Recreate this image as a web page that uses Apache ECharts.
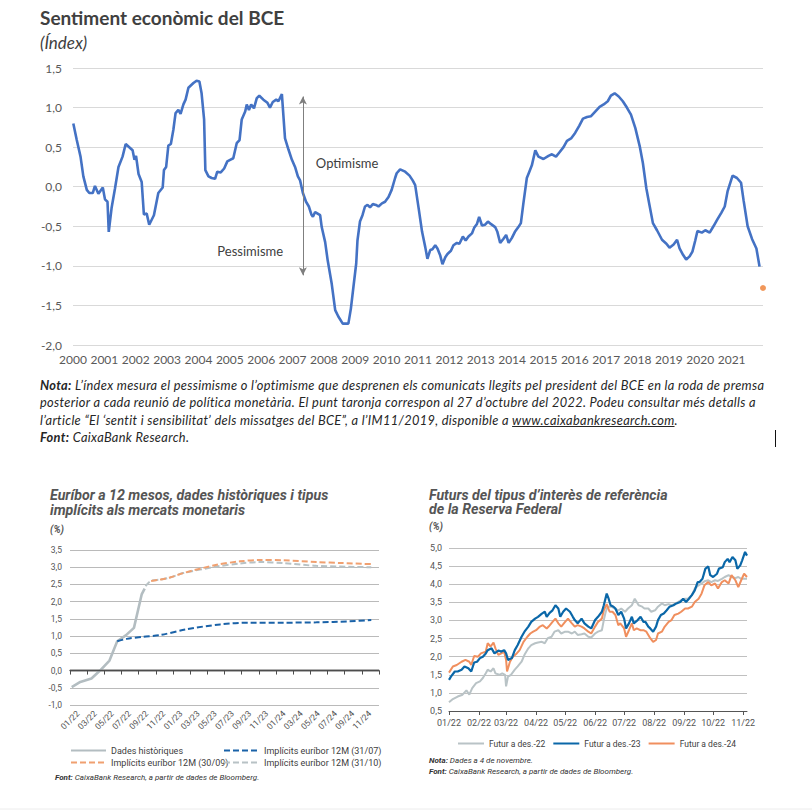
<!DOCTYPE html>
<html><head><meta charset="utf-8">
<script src="https://cdn.jsdelivr.net/npm/echarts@6/dist/echarts.min.js"></script>
<style>
html,body{margin:0;padding:0;background:#fff;}
#chart{position:absolute;left:0;top:0;width:812px;height:811px;}
#note{position:absolute;left:40px;top:377px;font-family:Lato,'Open Sans',sans-serif;font-style:italic;font-size:12.8px;letter-spacing:0.33px;line-height:17.3px;color:#262626;white-space:nowrap;}
#note b{font-weight:bold;}
#cursor{position:absolute;left:775px;top:430px;width:1px;height:17px;background:#111;}
</style></head><body>
<div id="chart"></div>
<div id="note"><b>Nota:</b> L’índex mesura el pessimisme o l’optimisme que desprenen els comunicats llegits pel president del BCE en la roda de premsa<br>posterior a cada reunió de política monetària. El punt taronja correspon al 27 d’octubre del 2022. Podeu consultar més detalls a<br>l’article “El ‘sentit i sensibilitat’ dels missatges del BCE”, a l’IM11/2019, disponible a <u>www.caixabankresearch.com</u>.<br><b>Font:</b> CaixaBank Research.</div>
<div id="cursor"></div>
<script>
// ---------- Chart 1: Sentiment econòmic del BCE ----------
const sentimentYearOffset = [0.01,0.12,0.24,0.33,0.44,0.52,0.63,0.70,0.81,0.95,
1.02,1.10,1.14,1.23,1.34,1.45,1.58,1.68,1.82,1.90,
1.96,2.01,2.09,2.19,2.26,2.35,2.43,2.58,2.72,2.86,
2.90,2.97,3.04,3.12,3.20,3.27,3.36,3.43,3.52,3.59,
3.68,3.84,3.94,4.03,4.10,4.18,4.22,4.32,4.42,4.53,
4.60,4.71,4.82,4.92,5.01,5.11,5.22,5.31,5.38,5.49,
5.54,5.61,5.68,5.77,5.86,5.94,6.07,6.20,6.28,6.37,
6.48,6.55,6.66,6.76,6.87,6.98,7.08,7.17,7.24,7.33,
7.43,7.52,7.60,7.65,7.72,7.80,7.88,7.93,8.04,8.12,
8.25,8.36,8.46,8.60,8.78,8.86,8.94,9.03,9.07,9.15,
9.23,9.31,9.39,9.47,9.56,9.66,9.74,9.85,9.95,10.06,
10.16,10.27,10.32,10.43,
10.59,10.73,10.83,10.91,11.02,11.13,11.23,11.30,11.39,11.46,
11.55,11.62,11.71,11.78,11.87,11.94,12.05,12.13,12.24,12.32,
12.43,12.52,12.61,12.72,12.79,12.88,12.95,13.04,13.14,13.23,
13.32,13.46,13.53,13.62,13.72,13.81,13.89,13.99,14.09,14.20,
14.28,14.36,14.47,14.55,14.63,14.74,14.84,15.00,15.16,15.27,
15.40,15.50,15.64,15.75,15.88,16.01,16.14,16.26,16.39,16.51,
16.65,16.79,16.92,17.05,17.15,17.27,17.40,17.53,17.66,17.79,
17.93,18.07,18.17,18.28,18.38,18.49,18.62,18.78,18.92,19.02,
19.15,19.26,19.34,19.45,19.55,19.66,19.75,19.84,19.91,20.05,
20.16,20.30,20.42,20.55,20.67,20.78,20.87,21.03,21.17,21.30,
21.38,21.51,21.65,21.79,21.89];
const sentimentIndex = [0.80,0.59,0.38,0.13,-0.04,-0.08,-0.08,0.01,-0.09,-0.01,
-0.16,-0.19,-0.57,-0.27,-0.02,0.25,0.38,0.54,0.49,0.46,
0.34,0.39,0.16,0.06,-0.35,-0.34,-0.48,-0.36,-0.08,-0.01,
0.21,0.25,0.52,0.54,0.72,0.93,0.97,0.92,1.04,1.10,
1.25,1.31,1.34,1.33,1.18,0.85,0.21,0.13,0.11,0.10,
0.19,0.18,0.23,0.32,0.34,0.36,0.55,0.59,0.85,0.95,
1.04,0.97,1.04,0.99,1.12,1.15,1.10,1.06,1.00,1.07,
1.10,1.08,1.17,0.61,0.47,0.34,0.25,0.13,0.08,-0.08,
-0.19,-0.25,-0.35,-0.38,-0.32,-0.34,-0.36,-0.51,-0.70,-0.93,
-1.23,-1.56,-1.64,-1.73,-1.73,-1.54,-1.27,-0.97,-0.68,-0.44,
-0.36,-0.25,-0.23,-0.26,-0.22,-0.23,-0.25,-0.21,-0.19,-0.13,
-0.04,0.11,0.17,0.22,
0.19,0.14,0.08,0.02,-0.27,-0.57,-0.76,-0.91,-0.80,-0.79,
-0.74,-0.78,-0.87,-0.98,-0.89,-0.85,-0.81,-0.74,-0.71,-0.72,
-0.63,-0.68,-0.63,-0.59,-0.52,-0.47,-0.38,-0.49,-0.48,-0.44,
-0.47,-0.51,-0.57,-0.71,-0.66,-0.61,-0.71,-0.65,-0.57,-0.51,
-0.46,-0.21,0.11,0.19,0.27,0.46,0.38,0.35,0.39,0.41,
0.38,0.43,0.50,0.58,0.61,0.68,0.77,0.86,0.88,0.89,
0.95,1.01,1.04,1.08,1.15,1.18,1.14,1.08,1.00,0.91,
0.74,0.51,0.30,-0.02,-0.23,-0.46,-0.55,-0.67,-0.72,-0.77,
-0.73,-0.67,-0.78,-0.86,-0.92,-0.88,-0.82,-0.68,-0.56,-0.58,
-0.55,-0.58,-0.50,-0.41,-0.33,-0.25,-0.06,0.14,0.11,0.05,
-0.17,-0.50,-0.66,-0.78,-1.01];
const latestPoint = [2022.0, -1.28];   // 27/10/2022
const arrowRange = [-1.12, 1.14];      // Pessimisme / Optimisme arrow
const yearStart = 2000, yearEnd = 2022;

// ---------- Chart 2: Euríbor a 12 mesos ----------
const euriborTickLabels = ['01/22','03/22','05/22','07/22','09/22','11/22','01/23','03/23','05/23','07/23','09/23','11/23','01/24','03/24','05/24','07/24','09/24','11/24'];
const euriborMin = -1, euriborMax = 3.5;
const histMonths = [0.2,1.2,2.5,3.5,4.6,5.5,6.5,7.45,8.35,8.7];
const histValues = [-0.48,-0.33,-0.23,0.0,0.29,0.85,1.02,1.24,2.21,2.38];
const impl3107Months = [5.5,6.6,8.5,10.5,13.6,17.5,21,24.9,28.7,32.6,35.1];
const impl3107Values = [0.85,0.92,0.98,1.03,1.20,1.34,1.39,1.39,1.40,1.43,1.47];
const impl3009Months = [9.45,10.5,11.65,13.2,17.1,19.8,22.1,24.9,28.7,31.8,35.1];
const impl3009Values = [2.60,2.64,2.70,2.83,3.07,3.17,3.21,3.20,3.15,3.12,3.09];
const impl3110Months = [8.8,9.4,10.5,11.65,13.2,17.1,19.8,22.1,24.9,28.7,35.1];
const impl3110Values = [2.45,2.60,2.64,2.70,2.83,3.02,3.11,3.15,3.12,3.04,3.00];

// ---------- Chart 3: Futurs Fed funds (days since 1 Jan 2022) ----------
const fedTickLabels = ['01/22','02/22','03/22','04/22','05/22','06/22','07/22','08/22','09/22','10/22','11/22'];
const fed22Days = [0,4,9,14,18,21,24,28,32,35,38,40,43,46,48,52,55,58,59,61,64,68,71,75,78,82,85,89,92,96,99,102,106,109,113,116,120,123,127,130,133,137,140,144,147,151,154,158,160,162,164,168,171,175,178,182,185,189,192,196,199,202,206,209,213,216,220,223,227,230,233,237,240,244,247,251,254,258,261,264,268,271,275,278,282,285,289,292,296,299,302,308];
const fed22Values = [0.74,0.83,0.90,0.95,1.07,0.95,1.13,1.27,1.32,1.41,1.54,1.64,1.59,1.68,1.54,1.50,1.54,1.50,1.18,1.45,1.50,1.64,1.73,1.86,2.05,2.23,2.32,2.37,2.39,2.41,2.37,2.51,2.55,2.69,2.73,2.64,2.69,2.69,2.64,2.69,2.60,2.62,2.64,2.55,2.53,2.64,2.69,2.73,3.01,3.24,3.38,3.38,3.33,3.28,3.33,3.24,3.33,3.42,3.60,3.42,3.39,3.33,3.33,3.24,3.28,3.38,3.47,3.42,3.45,3.42,3.45,3.51,3.56,3.60,3.60,3.70,3.88,3.97,4.02,4.08,4.11,4.06,4.11,4.09,4.15,4.20,4.25,4.20,4.17,4.20,4.15,4.15];
const fed23Days = [0,2,6,9,13,16,20,23,26,29,32,35,38,40,44,47,51,54,57,59,61,65,68,71,75,78,82,85,89,92,96,99,101,104,107,110,113,115,118,121,125,128,130,133,137,140,144,147,151,154,158,160,163,165,167,170,172,175,178,181,183,186,189,191,195,198,201,203,206,208,211,214,216,219,222,225,228,232,235,239,242,245,248,251,254,257,259,262,265,268,270,273,277,279,283,285,288,290,293,296,298,301,303,306,308];
const fed23Values = [1.36,1.45,1.59,1.59,1.64,1.73,1.68,1.59,1.84,1.86,1.96,2.00,2.09,2.18,2.23,2.09,2.17,2.14,2.18,2.09,1.91,1.96,2.18,2.32,2.55,2.69,2.83,2.96,3.05,3.10,3.19,3.24,3.10,3.21,3.28,3.42,3.33,3.10,3.24,3.33,3.24,3.10,3.01,2.92,3.05,2.92,2.83,2.78,3.01,3.10,3.24,3.42,3.74,3.60,3.42,3.38,3.33,3.15,3.24,3.05,2.78,2.92,3.10,2.92,3.01,3.10,2.96,2.96,2.83,2.78,2.69,2.83,3.01,3.15,3.19,3.28,3.38,3.42,3.47,3.51,3.60,3.51,3.60,3.70,3.83,4.06,4.06,4.15,4.43,4.49,4.25,4.20,4.29,4.43,4.47,4.61,4.70,4.61,4.75,4.66,4.43,4.52,4.66,4.89,4.79];
const fed24Days = [0,4,8,13,17,21,23,26,30,33,38,40,43,46,48,51,54,57,59,60,63,66,70,73,77,81,84,87,90,94,97,101,103,107,110,113,116,120,123,127,130,133,137,140,144,147,151,154,158,160,163,166,169,172,175,177,181,183,186,189,191,194,198,201,204,208,211,214,216,220,223,227,230,233,237,240,244,247,251,254,258,261,264,268,271,275,278,282,285,289,292,296,299,302,305,308];
const fed24Values = [1.56,1.73,1.77,1.86,1.91,1.86,1.77,2.02,2.00,2.09,2.14,2.37,2.28,2.39,2.23,2.05,2.09,2.14,1.91,1.59,1.86,2.00,2.09,2.18,2.41,2.55,2.64,2.69,2.73,2.83,2.87,2.78,2.83,2.96,3.05,2.92,2.83,2.96,3.05,2.92,2.83,2.87,2.83,2.78,2.69,2.64,2.83,2.96,3.05,3.28,3.45,3.24,3.24,3.15,2.87,2.92,2.78,2.55,2.73,2.92,2.73,2.78,2.73,2.73,2.69,2.51,2.41,2.46,2.64,2.69,2.83,2.96,3.01,3.15,3.19,3.24,3.33,3.33,3.38,3.51,3.60,3.74,3.97,4.06,3.97,4.02,3.88,4.06,4.11,4.02,4.25,4.11,3.92,4.11,4.29,4.20];
const fedEndDay = 308;

const DAY = 86400000;
const jan1 = new Date(2022, 0, 1).getTime();
const monthStartDays = fedTickLabels.map((_, i) => Math.round((new Date(2022, i, 1).getTime() - jan1) / DAY));
const pairs = (xs, ys, fx) => xs.map((x, i) => [fx ? fx(x) : x, ys[i]]);
const comma = v => v.toFixed(1).replace('.', ',');

const FONT_MAIN = 'Lato';
const FONT_SMALL = 'Roboto';
const legendCommon = {itemWidth: 35, itemHeight: 8, itemGap: 3, padding: 0, itemStyle: {opacity: 0},
  textStyle: {fontSize: 9, color: '#404040', fontFamily: FONT_SMALL}};

// Euríbor panel geometry; the zero line sits on a helper grid whose bottom is the value 0
const eurTop = 550, eurHeight = 155;
const eurZeroHeight = eurHeight * (euriborMax - 0) / (euriborMax - euriborMin);

const chart = echarts.init(document.getElementById('chart'), null, {renderer: 'svg'});
const option = {
  animation: false,
  backgroundColor: '#fff',
  grid: [
    {left: 73, top: 68, width: 690, height: 277, outerBoundsMode: 'none'},
    {left: 70, top: eurTop, width: 309, height: eurHeight, outerBoundsMode: 'none'},
    {left: 449, top: 548, width: 298, height: 163, outerBoundsMode: 'none'},
    {left: 70, top: eurTop, width: 309, height: eurZeroHeight, outerBoundsMode: 'none'}
  ],
  xAxis: [
    {type: 'value', gridIndex: 0, position: 'bottom', min: yearStart, max: yearEnd, interval: 1,
     axisLine: {show: false}, axisTick: {show: false}, splitLine: {show: false},
     axisLabel: {color: '#595959', fontFamily: FONT_MAIN, fontSize: 12, margin: 8,
       formatter: v => v < yearEnd ? String(v) : ''}},
    {type: 'value', gridIndex: 1, position: 'bottom', min: 0, max: 36, interval: 2,
     axisLine: {show: false, onZero: false}, axisTick: {show: false}, splitLine: {show: false},
     axisLabel: {rotate: 45, align: 'center', verticalAlign: 'middle', margin: 15,
       color: '#555', fontFamily: FONT_SMALL, fontSize: 8.5,
       formatter: v => euriborTickLabels[v / 2] || ''}},
    {type: 'value', gridIndex: 2, position: 'bottom', min: 0, max: fedEndDay,
     axisLine: {show: true, lineStyle: {color: '#555', width: 1}},
     axisTick: {show: true, length: 4, lineStyle: {color: '#555'}, customValues: monthStartDays},
     splitLine: {show: false},
     axisLabel: {customValues: monthStartDays, color: '#555', fontFamily: FONT_SMALL, fontSize: 9, margin: 7,
       formatter: v => fedTickLabels[monthStartDays.indexOf(v)] || ''}},
    {type: 'value', gridIndex: 3, position: 'bottom', min: 0, max: 36, interval: 2, z: 5,
     axisLine: {show: true, onZero: false, lineStyle: {color: '#4d4d4d', width: 1.3}},
     axisTick: {show: true, length: 4, lineStyle: {color: '#4d4d4d', width: 1}},
     axisLabel: {show: false}, splitLine: {show: false}}
  ],
  yAxis: [
    {type: 'value', gridIndex: 0, min: -2, max: 1.5, interval: 0.5,
     axisLine: {show: false}, axisTick: {show: false},
     splitLine: {lineStyle: {color: '#d9d9d9', width: 1}},
     axisLabel: {color: '#595959', fontFamily: FONT_MAIN, fontSize: 12, margin: 11, formatter: comma}},
    {type: 'value', gridIndex: 1, min: euriborMin, max: euriborMax, interval: 0.5,
     axisLine: {show: false}, axisTick: {show: false},
     splitLine: {lineStyle: {color: '#a8a8a8', width: 0.8}},
     axisLabel: {color: '#555', fontFamily: FONT_SMALL, fontSize: 8.5, margin: 8, formatter: comma}},
    {type: 'value', gridIndex: 2, min: 0.5, max: 5, interval: 0.5,
     axisLine: {show: false}, axisTick: {show: false},
     splitLine: {lineStyle: {color: '#b0b0b0', width: 0.8}},
     axisLabel: {color: '#555', fontFamily: FONT_SMALL, fontSize: 9, margin: 7, formatter: comma}},
    {type: 'value', gridIndex: 3, min: 0, max: euriborMax, interval: 0.5,
     axisLine: {show: false}, axisTick: {show: false}, axisLabel: {show: false}, splitLine: {show: false}}
  ],
  legend: [
    Object.assign({data: ['Dades històriques', 'Implícits euríbor 12M (30/09)'], orient: 'vertical', left: 70, top: 746}, legendCommon),
    Object.assign({data: ['Implícits euríbor 12M (31/07)', 'Implícits euríbor 12M (31/10)'], orient: 'vertical', left: 223, top: 746}, legendCommon),
    Object.assign({}, legendCommon, {data: ['Futur a des.-22', 'Futur a des.-23', 'Futur a des.-24'], orient: 'horizontal', left: 457, top: 739,
     itemWidth: 26, itemGap: 7, textStyle: {fontSize: 8.5, color: '#404040', fontFamily: FONT_SMALL}})
  ],
  series: [
    {name: 'Sentiment', type: 'line', xAxisIndex: 0, yAxisIndex: 0,
     data: pairs(sentimentYearOffset, sentimentIndex, t => yearStart + t),
     showSymbol: false, lineStyle: {color: '#4472c4', width: 2.6}, itemStyle: {color: '#4472c4'},
     markLine: {silent: true, symbol: ['arrow', 'arrow'], symbolSize: [6, 8],
       lineStyle: {color: '#7f7f7f', width: 1, type: 'solid'}, label: {show: false},
       data: [[{coord: [2007.33, arrowRange[0]]}, {coord: [2007.33, arrowRange[1]]}]]},
     markPoint: {silent: true, symbol: 'circle', symbolSize: 0,
       label: {show: true, formatter: '{b}', color: '#404040', fontFamily: FONT_MAIN, fontSize: 13},
       data: [{name: 'Optimisme', coord: [2008.74, 0.305]}, {name: 'Pessimisme', coord: [2005.65, -0.81]}]}},
    {name: '27/10/2022', type: 'scatter', xAxisIndex: 0, yAxisIndex: 0, clip: false,
     data: [latestPoint], symbolSize: 6, itemStyle: {color: '#ed7d31'}},

    {name: 'Dades històriques', type: 'line', xAxisIndex: 1, yAxisIndex: 1,
     data: pairs(histMonths, histValues), showSymbol: false, symbol: 'none',
     lineStyle: {color: '#b3bdc1', width: 2.6}, itemStyle: {color: '#b3bdc1'},
     markLine: {silent: true, symbol: 'none', label: {show: false}, z: 1,
       lineStyle: {color: '#4d4d4d', width: 1.3, type: 'solid'}, data: [{yAxis: 0}]}},
    {name: 'Implícits euríbor 12M (31/07)', type: 'line', xAxisIndex: 1, yAxisIndex: 1,
     data: pairs(impl3107Months, impl3107Values), showSymbol: false, symbol: 'none', smooth: 0.3,
     lineStyle: {color: '#1a62a8', width: 2, type: [6, 3]}, itemStyle: {color: '#1a62a8'}},
    {name: 'Implícits euríbor 12M (31/10)', type: 'line', xAxisIndex: 1, yAxisIndex: 1,
     data: pairs(impl3110Months, impl3110Values), showSymbol: false, symbol: 'none', smooth: 0.3,
     lineStyle: {color: '#b8c2c5', width: 2, type: [6, 3]}, itemStyle: {color: '#b8c2c5'}},
    {name: 'Implícits euríbor 12M (30/09)', type: 'line', xAxisIndex: 1, yAxisIndex: 1,
     data: pairs(impl3009Months, impl3009Values), showSymbol: false, symbol: 'none', smooth: 0.3,
     lineStyle: {color: '#f0a070', width: 2, type: [6, 3]}, itemStyle: {color: '#f0a070'}},

    {name: 'Futur a des.-22', type: 'line', xAxisIndex: 2, yAxisIndex: 2,
     data: pairs(fed22Days, fed22Values), showSymbol: false, symbol: 'none',
     lineStyle: {color: '#b9c3c6', width: 2}, itemStyle: {color: '#b9c3c6'}},
    {name: 'Futur a des.-24', type: 'line', xAxisIndex: 2, yAxisIndex: 2,
     data: pairs(fed24Days, fed24Values), showSymbol: false, symbol: 'none',
     lineStyle: {color: '#f08f5e', width: 2}, itemStyle: {color: '#f08f5e'}},
    {name: 'Futur a des.-23', type: 'line', xAxisIndex: 2, yAxisIndex: 2,
     data: pairs(fed23Days, fed23Values), showSymbol: false, symbol: 'none',
     lineStyle: {color: '#0a67a8', width: 2.2}, itemStyle: {color: '#0a67a8'}}
  ],
  graphic: [
    {type: 'text', x: 40, y: 8, style: {text: 'Sentiment econòmic del BCE', fontFamily: FONT_MAIN, fontWeight: 'bold', fontSize: 19, fill: '#404040'}},
    {type: 'text', x: 40, y: 34, style: {text: '(Índex)', fontFamily: FONT_MAIN, fontStyle: 'italic', fontSize: 17, fill: '#404040'}},

    {type: 'text', x: 50, y: 488, scaleX: 0.98, style: {text: 'Euríbor a 12 mesos, dades històriques i tipus\nimplícits als mercats monetaris', fontFamily: FONT_SMALL, fontWeight: 'bold', fontStyle: 'italic', fontSize: 14.5, lineHeight: 15, fill: '#555'}},
    {type: 'text', x: 50, y: 524, style: {text: '(%)', fontFamily: FONT_SMALL, fontWeight: 'bold', fontStyle: 'italic', fontSize: 10, fill: '#555'}},
    {type: 'text', x: 55, y: 773, style: {text: '{b|Font:} CaixaBank Research, a partir de dades de Bloomberg.', fontFamily: FONT_SMALL, fontStyle: 'italic', fontSize: 8, fill: '#333',
      rich: {b: {fontFamily: FONT_SMALL, fontStyle: 'italic', fontWeight: 'bold', fontSize: 8, fill: '#333'}}}},

    {type: 'text', x: 429, y: 488, scaleX: 0.98, style: {text: 'Futurs del tipus d’interès de referència\nde la Reserva Federal', fontFamily: FONT_SMALL, fontWeight: 'bold', fontStyle: 'italic', fontSize: 14.5, lineHeight: 14.5, fill: '#555'}},
    {type: 'text', x: 429, y: 521, style: {text: '(%)', fontFamily: FONT_SMALL, fontWeight: 'bold', fontStyle: 'italic', fontSize: 10, fill: '#555'}},
    {type: 'text', x: 429, y: 756, style: {text: '{b|Nota:} Dades a 4 de novembre.', fontFamily: FONT_SMALL, fontStyle: 'italic', fontSize: 8, fill: '#333',
      rich: {b: {fontFamily: FONT_SMALL, fontStyle: 'italic', fontWeight: 'bold', fontSize: 8, fill: '#333'}}}},
    {type: 'text', x: 429, y: 767, style: {text: '{b|Font:} CaixaBank Research, a partir de dades de Bloomberg.', fontFamily: FONT_SMALL, fontStyle: 'italic', fontSize: 8, fill: '#333',
      rich: {b: {fontFamily: FONT_SMALL, fontStyle: 'italic', fontWeight: 'bold', fontSize: 8, fill: '#333'}}}},
    {type: 'line', shape: {x1: 0, y1: 809, x2: 812, y2: 809}, style: {stroke: '#ececec', lineWidth: 1}}
  ]
};
chart.setOption(option);
</script>
</body></html>
